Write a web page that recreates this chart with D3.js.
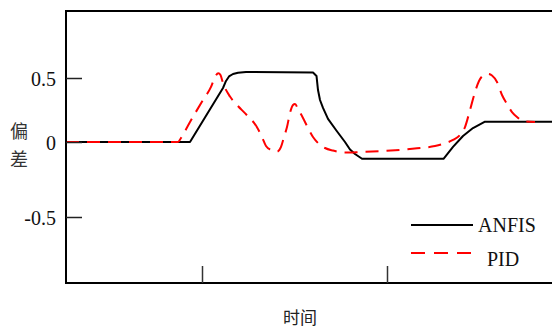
<!DOCTYPE html>
<html>
<head>
<meta charset="utf-8">
<script src="https://cdn.jsdelivr.net/npm/d3@7"></script>
<style>
  body { margin: 0; background: #fff; }
  svg { display: block; }
</style>
</head>
<body>
<svg id="chart" width="552" height="329"></svg>
<script>
// time samples (arbitrary units) and error values
const anfisT = [0, 124, 157, 160, 163, 167, 172, 180, 247, 250.5, 252, 254, 257, 262, 270, 279, 284, 289, 296, 377.5, 387, 397, 407, 419, 490];
const anfisV = [0, 0, 0.422, 0.477, 0.512, 0.531, 0.541, 0.547, 0.543, 0.516, 0.406, 0.328, 0.266, 0.18, 0.094, 0, -0.05, -0.08, -0.112, -0.112, -0.033, 0.047, 0.109, 0.159, 0.159];

const pidT = [0, 112, 115, 124, 137, 145, 149, 152.3, 154.5, 157, 164, 171, 180.7, 190.7, 196, 200, 205, 211, 215, 218, 221, 224, 227, 229, 232, 237, 242, 247, 252, 259, 267, 279, 294, 317, 351, 369, 377, 387, 394, 399, 404, 409, 413, 418, 422.3, 426, 431, 436, 441, 446, 451, 457, 469];
const pidV = [0, 0, 0.031, 0.156, 0.328, 0.43, 0.508, 0.537, 0.523, 0.461, 0.355, 0.289, 0.211, 0.12, 0.039, -0.027, -0.053, -0.065, -0.033, 0.039, 0.117, 0.227, 0.289, 0.297, 0.258, 0.188, 0.109, 0.039, -0.007, -0.04, -0.057, -0.07, -0.067, -0.06, -0.042, -0.027, -0.013, 0.016, 0.055, 0.117, 0.25, 0.39, 0.477, 0.523, 0.531, 0.52, 0.469, 0.367, 0.297, 0.234, 0.195, 0.164, 0.156];

const yTicks = [0.5, 0, -0.5];
const yTickLabels = ["0.5", "0", "-0.5"];
const xTicks = [136, 321];
const seriesNames = ["ANFIS", "PID"];

const svg = d3.select("#chart");
const plotLeft = 66, plotTop = 11, plotRight = 552, plotBottom = 283;
const serif = "'Liberation Serif', 'Times New Roman', serif";

const x = d3.scaleLinear().domain([0, 486]).range([plotLeft, plotRight]);
// the picture's vertical spacing is uneven, so keep it piecewise
const y = d3.scaleLinear()
  .domain([-0.94, -0.5, 0, 0.5, 1.02])
  .range([plotBottom, 217, 142, 78, plotTop]);

svg.append("clipPath").attr("id", "plot-clip")
  .append("rect")
  .attr("x", plotLeft).attr("y", plotTop)
  .attr("width", plotRight - plotLeft).attr("height", plotBottom - plotTop);

// Series
const anfis = anfisT.map((t, i) => [t, anfisV[i]]);
const pid = pidT.map((t, i) => [t, pidV[i]]);

const plot = svg.append("g").attr("clip-path", "url(#plot-clip)");

plot.append("path")
  .datum(anfis)
  .attr("fill", "none")
  .attr("stroke", "#000")
  .attr("stroke-width", 2)
  .attr("stroke-linejoin", "round")
  .attr("d", d3.line().x((d) => x(d[0])).y((d) => y(d[1])));

plot.append("path")
  .datum(pid)
  .attr("fill", "none")
  .attr("stroke", "#ff0000")
  .attr("stroke-width", 2)
  .attr("stroke-dasharray", "13,8")
  .attr("d", d3.line().curve(d3.curveMonotoneX).x((d) => x(d[0])).y((d) => y(d[1])));

// Frame
svg.append("path")
  .attr("fill", "none")
  .attr("stroke", "#000")
  .attr("stroke-width", 2)
  .attr("d", `M${plotRight},${plotTop}H${plotLeft}V${plotBottom}H${plotRight}`);

// Y axis ticks + labels
const yAxis = svg.append("g")
  .attr("transform", `translate(${plotLeft},0)`)
  .call(d3.axisRight(y).tickValues(yTicks).tickSize(16).tickFormat((d, i) => yTickLabels[i]))
  .attr("font-family", serif)
  .attr("font-size", 20);
yAxis.select(".domain").remove();
yAxis.selectAll("line").attr("stroke", "#222").attr("stroke-width", 1.5);
yAxis.selectAll("text")
  .attr("x", -10)
  .attr("dy", "0.35em")
  .attr("text-anchor", "end")
  .attr("fill", "#111");

// X axis ticks (inward)
const xAxis = svg.append("g")
  .attr("transform", `translate(0,${plotBottom})`)
  .call(d3.axisTop(x).tickValues(xTicks).tickSize(17).tickFormat(""));
xAxis.select(".domain").remove();
xAxis.selectAll("line").attr("stroke", "#333").attr("stroke-width", 1.5);

// Axis titles
const cjk = "'Noto Sans CJK SC', sans-serif";
svg.append("text")
  .attr("x", 19).attr("y", 138)
  .attr("text-anchor", "middle")
  .style("font-family", cjk).style("font-size", "18px")
  .attr("fill", "#333")
  .text("偏");
svg.append("text")
  .attr("x", 19).attr("y", 166)
  .attr("text-anchor", "middle")
  .style("font-family", cjk).style("font-size", "18px")
  .attr("fill", "#333")
  .text("差");
svg.append("text")
  .attr("x", 300).attr("y", 324)
  .attr("text-anchor", "middle")
  .style("font-family", cjk).style("font-size", "17px")
  .attr("fill", "#222")
  .text("时间");

// Legend
const legend = svg.append("g");
const legendRows = [
  { name: seriesNames[0], color: "#000", dash: null, y: 225, tx: 478, dy: 7 },
  { name: seriesNames[1], color: "#ff0000", dash: "14,9", y: 253, tx: 487, dy: 13 },
];
legendRows.forEach((r) => {
  legend.append("line")
    .attr("x1", 411).attr("x2", 473)
    .attr("y1", r.y).attr("y2", r.y)
    .attr("stroke", r.color)
    .attr("stroke-width", 2)
    .attr("stroke-dasharray", r.dash);
  legend.append("text")
    .attr("x", r.tx).attr("y", r.y + r.dy)
    .style("font-family", serif)
    .style("font-size", "20px")
    .attr("fill", "#111")
    .text(r.name);
});
</script>
</body>
</html>
